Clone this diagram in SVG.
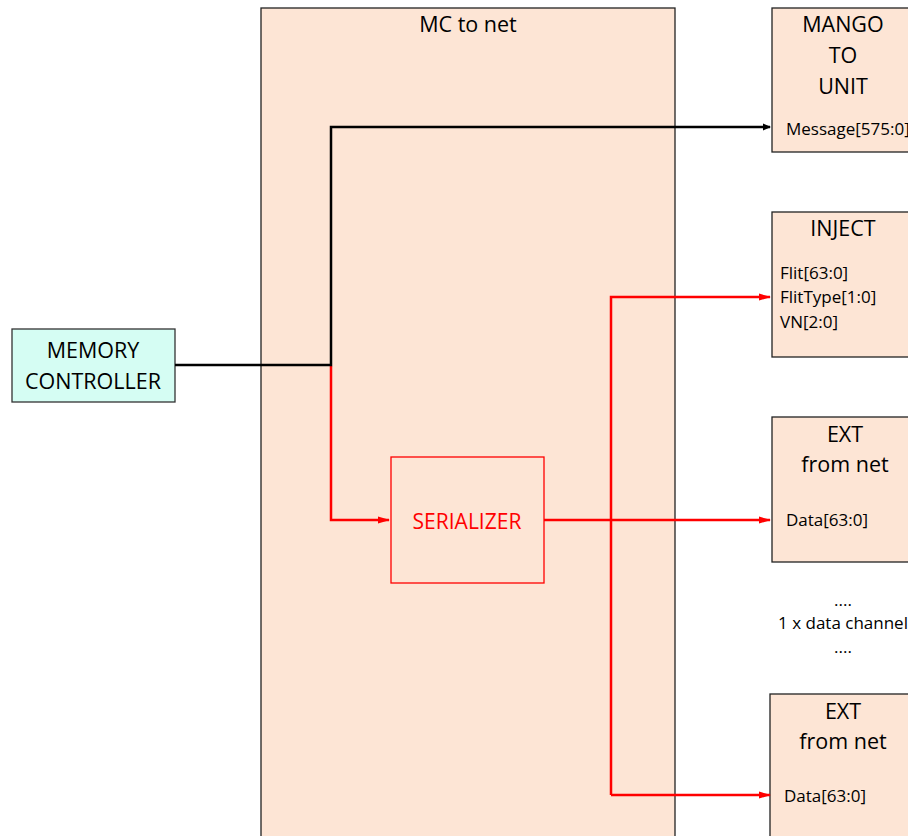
<svg xmlns="http://www.w3.org/2000/svg" width="908" height="836" viewBox="0 0 908 836">
<style>
text{font-family:"Open Sans","Liberation Sans",Arial,sans-serif;fill:#000}
.big{font-size:21.5px}
.sm{font-size:17px}
.box{fill:#fde5d5;stroke:#222;stroke-width:1.3}
.blk{fill:none;stroke:#000;stroke-width:2.5}
.red{fill:none;stroke:#f00;stroke-width:2.5}
</style>
<defs>
<marker id="ab" markerWidth="8" markerHeight="8" refX="7" refY="4" orient="auto" markerUnits="userSpaceOnUse" viewBox="0 0 8 8"><path d="M0,0.5 L8,4 L0,7.5 Z" fill="#000"/></marker>
<marker id="ar" markerWidth="12" markerHeight="8" refX="11" refY="4" orient="auto" markerUnits="userSpaceOnUse" viewBox="0 0 12 8"><path d="M0,0.5 L12,4 L0,7.5 Z" fill="#f00"/></marker>
</defs>
<g id="mc-to-net"><rect class="box" x="261" y="8" width="414" height="840"/><text class="big" x="468" y="32" text-anchor="middle">MC to net</text></g>
<g id="memory-controller"><rect x="12" y="329" width="163" height="73" fill="#d5fdf3" stroke="#333" stroke-width="1.3"/><text class="big" x="93" y="358" text-anchor="middle">MEMORY</text><text class="big" x="93" y="389" text-anchor="middle">CONTROLLER</text></g>
<g id="mango-to-unit"><rect class="box" x="772" y="8" width="150" height="144"/><text class="big" x="843" y="32" text-anchor="middle">MANGO</text><text class="big" x="843" y="63" text-anchor="middle">TO</text><text class="big" x="843" y="94" text-anchor="middle">UNIT</text><text class="sm" x="786" y="135">Message[575:0]</text></g>
<g id="inject"><rect class="box" x="772" y="212" width="150" height="145"/><text class="big" x="843" y="236" text-anchor="middle">INJECT</text><text class="sm" x="780" y="279">Flit[63:0]</text><text class="sm" x="780" y="303">FlitType[1:0]</text><text class="sm" x="780" y="328">VN[2:0]</text></g>
<g id="ext1"><rect class="box" x="772" y="417" width="150" height="145"/><text class="big" x="845" y="442" text-anchor="middle">EXT</text><text class="big" x="845" y="472" text-anchor="middle">from net</text><text class="sm" x="786" y="526">Data[63:0]</text></g>
<g id="data-note"><text class="sm" x="843" y="606" text-anchor="middle">....</text><text class="sm" x="843" y="629" text-anchor="middle">1 x data channel</text><text class="sm" x="843" y="653" text-anchor="middle">....</text></g>
<g id="ext2"><rect class="box" x="770" y="694" width="150" height="160"/><text class="big" x="843" y="719" text-anchor="middle">EXT</text><text class="big" x="843" y="749" text-anchor="middle">from net</text><text class="sm" x="784" y="802">Data[63:0]</text></g>
<g id="serializer"><rect x="391" y="457" width="153" height="126" fill="none" stroke="#f00" stroke-width="1.3"/><text x="467" y="529" text-anchor="middle" style="font-size:21px;fill:#f00">SERIALIZER</text></g>
<g id="connectors">
<path class="red" d="M331,366 V520 H389" marker-end="url(#ar)"/>
<path class="red" d="M544,520 H770" marker-end="url(#ar)"/>
<path class="red" d="M611,795 V297 H770" marker-end="url(#ar)"/>
<path class="red" d="M611,795 H770" marker-end="url(#ar)"/>
<path class="blk" d="M175,365 H331 V127 H770" marker-end="url(#ab)"/>
</g>
</svg>
